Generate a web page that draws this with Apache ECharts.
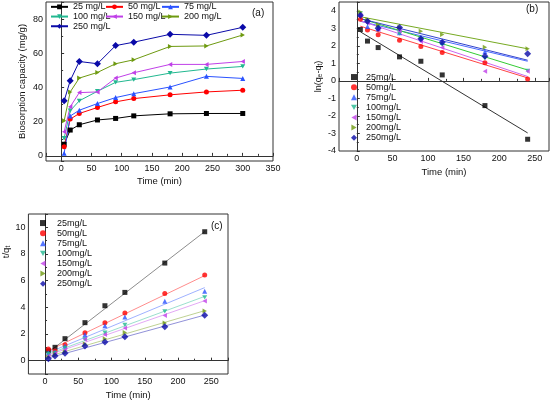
<!DOCTYPE html>
<html><head><meta charset="utf-8">
<script src="https://cdn.jsdelivr.net/npm/echarts@6/dist/echarts.min.js"></script>
<style>html,body{margin:0;padding:0;background:#fff}#c{width:551px;height:403px}</style>
</head><body><div id="c"></div>
<script>
const FONT = 'Liberation Sans, Arial, sans-serif';
// ---- Panel (a): biosorption capacity vs time ----
const timeA = [5, 15, 30, 60, 90, 120, 180, 240, 300];
const a25  = [6.8, 15.1, 18.2, 21.0, 21.9, 23.4, 24.6, 24.8, 24.8];
const a50  = [5.4, 21.5, 24.8, 28.3, 31.6, 33.5, 35.7, 37.4, 38.4];
const a75  = [1.6, 23.3, 26.7, 30.6, 34.1, 36.4, 40.3, 46.5, 45.3];
const a100 = [10.3, 26.4, 32.2, 37.8, 43.0, 44.6, 48.4, 50.8, 52.3];
const a150 = [14.1, 28.7, 37.0, 37.4, 45.5, 48.6, 53.5, 53.5, 55.2];
const a200 = [20.5, 37.4, 45.5, 48.8, 53.9, 56.2, 64.0, 64.3, 70.7];
const a250 = [32.2, 44.0, 55.2, 53.9, 64.5, 66.5, 71.1, 70.5, 75.2];
// ---- Panel (b): ln(qe-qt) vs time ----
const timeB = [5, 15, 30, 60, 90, 120, 180, 240];
const b25  = [2.93, 2.27, 1.90, 1.37, 1.12, 0.34, -1.41, -3.33];
const b50  = [3.52, 2.90, 2.63, 2.32, 1.96, 1.62, 1.03, 0.11];
const b75  = [3.79, 3.10, 2.97, 2.74, 2.46, 2.19, 1.66, null];
const b100 = [3.85, 3.30, 3.05, 2.70, 2.38, 2.05, 1.30, 0.57];
const b150 = [3.75, 3.30, 2.95, 2.85, 2.25, 1.90, 0.55, 0.55];
const b200 = [3.93, 3.50, 3.20, 3.05, 2.83, 2.65, 1.92, 1.83];
const b250 = [3.74, 3.40, 3.00, 3.05, 2.40, 2.20, 1.40, 1.55];
// fitted lines (b): values at t = 5 and t = 240
const fitT = [5, 240];
const fb25  = [2.80, -2.97];
const fb50  = [3.12, 0.17];
const fb75  = [3.40, 1.12];
const fb100 = [3.56, 0.62];
const fb150 = [3.43, 0.25];
const fb200 = [3.66, 1.83];
const fb250 = [3.55, 1.18];
// ---- Panel (c): t/qt vs time ----
const c25  = [0.74, 1.00, 1.65, 2.85, 4.12, 5.12, 7.32, 9.67];
const c50  = [0.88, 0.72, 1.20, 2.10, 2.85, 3.58, 5.03, 6.42];
const c75  = [0.60, 0.65, 1.10, 1.95, 2.62, 3.28, 4.45, 5.20];
const c100 = [0.50, 0.57, 0.95, 1.60, 2.10, 2.68, 3.70, 4.75];
const c150 = [0.35, 0.52, 0.82, 1.60, 1.97, 2.45, 3.38, 4.48];
const c200 = [0.25, 0.42, 0.65, 1.25, 1.65, 2.12, 2.82, 3.72];
const c250 = [0.15, 0.35, 0.55, 1.10, 1.40, 1.80, 2.55, 3.40];
const fc25  = [0.62, 9.68];
const fc50  = [0.75, 6.38];
const fc75  = [0.60, 5.48];
const fc100 = [0.50, 4.82];
const fc150 = [0.42, 4.50];
const fc200 = [0.32, 3.75];
const fc250 = [0.20, 3.42];

const namesA = ['25 mg/L', '50 mg/L', '75 mg/L', '100 mg/L', '150 mg/L', '200 mg/L', '250 mg/L'];
const namesB = ['25mg/L', '50mg/L', '75mg/L', '100mg/L', '150mg/L', '200mg/L', '250mg/L'];
const colors = ['#000000', '#ff0000', '#2a52ff', '#22b890', '#c040e8', '#6e9a10', '#0a0aa8'];
const fitColorsB = ['#333333', '#ff4444', '#4a6aff', '#33cc33', '#cc66ee', '#77aa22', '#3344cc'];
const symbols = ['rect', 'circle', 'triangle',
  'path://M0,0L10,0L5,8.66Z',
  'path://M0,5L8.66,0L8.66,10Z',
  'path://M0,0L8.66,5L0,10Z',
  'diamond'];
const seriesA = [a25, a50, a75, a100, a150, a200, a250];
const seriesB = [b25, b50, b75, b100, b150, b200, b250];
const fitsB = [fb25, fb50, fb75, fb100, fb150, fb200, fb250];
const seriesC = [c25, c50, c75, c100, c150, c200, c250];
const fitsC = [fc25, fc50, fc75, fc100, fc150, fc200, fc250];

function pairs(xs, ys) {
  const out = [];
  xs.forEach((x, i) => { if (ys[i] !== null && ys[i] !== undefined) out.push([x, ys[i]]); });
  return out;
}

const series = [];
seriesA.forEach((d, i) => series.push({
  name: namesA[i], type: 'line', xAxisIndex: 0, yAxisIndex: 0,
  data: pairs(timeA, d), symbol: symbols[i], symbolKeepAspect: true,
  symbolSize: i === 6 ? 7 : 5, color: colors[i],
  lineStyle: { width: 1, color: colors[i] }, itemStyle: { color: colors[i] }, z: 3
}));
fitsB.forEach((d, i) => series.push({
  name: 'fitb' + i, type: 'line', xAxisIndex: 1, yAxisIndex: 1,
  data: pairs(fitT, d), symbol: 'none', silent: true,
  lineStyle: { width: 1, color: fitColorsB[i] }, z: 2
}));
seriesB.forEach((d, i) => series.push({
  name: namesB[i], type: 'scatter', xAxisIndex: 1, yAxisIndex: 1,
  data: pairs(timeB, d), symbol: symbols[i], symbolKeepAspect: true,
  symbolSize: i === 6 ? 7 : 5, itemStyle: { color: colors[i] }, z: 3
}));
fitsC.forEach((d, i) => series.push({
  name: 'fitc' + i, type: 'line', xAxisIndex: 2, yAxisIndex: 2,
  data: pairs(fitT, d), symbol: 'none', silent: true,
  lineStyle: { width: 1, color: colors[i], opacity: 0.45 }, z: 2
}));
seriesC.forEach((d, i) => series.push({
  name: namesB[i], type: 'scatter', xAxisIndex: 2, yAxisIndex: 2,
  data: pairs(timeB, d), symbol: symbols[i], symbolKeepAspect: true,
  symbolSize: i === 6 ? 7 : 5, itemStyle: { color: colors[i] }, z: 3
}));

const AX = '#333';
function xAxis(grid, min, max, gap) {
  return {
    type: 'value', gridIndex: grid, min: min, max: max, minInterval: 50, maxInterval: 50,
    name: 'Time (min)', nameLocation: 'middle', nameGap: gap,
    nameTextStyle: { fontFamily: FONT, fontSize: 9.5, color: '#111' },
    axisLine: { show: true, lineStyle: { color: AX, width: 1 } },
    axisTick: { show: true, inside: true, length: 3, lineStyle: { color: AX } },
    minorTick: { show: true, splitNumber: 2, length: 2, lineStyle: { color: AX } },
    axisLabel: { fontFamily: FONT, fontSize: 9, color: '#111', margin: 3, showMinLabel: false, showMaxLabel: max === 350 },
    splitLine: { show: false }
  };
}
function yAxis(grid, min, max, step, name, gap, extra) {
  return Object.assign({
    type: 'value', gridIndex: grid, min: min, max: max, minInterval: step, maxInterval: step,
    name: name, nameLocation: 'middle', nameGap: gap,
    axisLine: { show: true, lineStyle: { color: AX, width: 1 } },
    axisTick: { show: true, inside: true, length: 3, lineStyle: { color: AX } },
    minorTick: { show: true, splitNumber: 2, length: 2, lineStyle: { color: AX } },
    axisLabel: { fontFamily: FONT, fontSize: 9, color: '#111', margin: 3, showMinLabel: min % step === 0, showMaxLabel: max % step === 0 },
    splitLine: { show: false }
  }, extra || {});
}

function legendA(left, data) {
  return { orient: 'vertical', itemGap: 0, padding: 0, left: left, top: 2,
    itemWidth: 17, itemHeight: 6, data: data,
    textStyle: { fontFamily: FONT, fontSize: 9, color: '#111', lineHeight: 9.7 } };
}
function legendS(left, top, pad) {
  return { orient: 'vertical', itemGap: 0, padding: 0, left: left, top: top,
    itemWidth: 6, itemHeight: 6, data: namesB,
    textStyle: { fontFamily: FONT, fontSize: 9, color: '#111', lineHeight: 10.1, padding: [0, 0, 0, pad] } };
}
const titleStyle = { fontFamily: FONT, fontSize: 10, fontWeight: 'normal', color: '#111' };

const option = {
  animation: false,
  backgroundColor: '#fff',
  textStyle: { fontFamily: FONT },
  title: [
    { text: '(a)', left: 252, top: 8, padding: 0, textStyle: titleStyle },
    { text: '(b)', left: 526, top: 4, padding: 0, textStyle: titleStyle },
    { text: '(c)', left: 211, top: 221, padding: 0, textStyle: titleStyle }
  ],
  grid: [
    { left: 46, right: 278, top: 2, bottom: 242, show: true, borderColor: AX, borderWidth: 1, backgroundColor: 'transparent' },
    { left: 339, right: 2, top: 2, bottom: 252, show: true, borderColor: AX, borderWidth: 1, backgroundColor: 'transparent' },
    { left: 23, right: 323, top: 214, bottom: 29, show: true, borderColor: AX, borderWidth: 1, backgroundColor: 'transparent' }
  ],
  xAxis: [ xAxis(0, -25, 350, 15), xAxis(1, -25, 270, 16), xAxis(2, -25, 275, 16) ],
  yAxis: [
    yAxis(0, -3, 90, 20, 'Biosorption capacity (mg/g)', 19,
      { nameTextStyle: { fontFamily: FONT, fontSize: 9.5, color: '#111' } }),
    yAxis(1, -4, 4.5, 1, '{n|ln(q}{s|e}{n|-q}{s|t}{n|)}', 13,
      { nameTextStyle: { fontFamily: FONT, fontSize: 9, color: '#111',
        rich: { n: { fontFamily: FONT, fontSize: 9, color: '#111' }, s: { fontFamily: FONT, fontSize: 6.5, color: '#111', verticalAlign: 'bottom', padding: [4, 0, 0, 0] } } } }),
    yAxis(2, -1, 11, 2, '{n|t/q}{s|t}', 8,
      { nameTextStyle: { fontFamily: FONT, fontSize: 9.5, color: '#111', padding: [0, 0, 0, 84],
        rich: { n: { fontFamily: FONT, fontSize: 9.5, color: '#111' }, s: { fontFamily: FONT, fontSize: 6.5, color: '#111', verticalAlign: 'bottom', padding: [4, 0, 0, 0] } } } })
  ],
  legend: [
    legendA(50, [namesA[0], namesA[3], namesA[6]]),
    legendA(105, [namesA[1], namesA[4]]),
    legendA(161, [namesA[2], namesA[5]]),
    legendS(351, 72, 4),
    legendS(40, 218, 6)
  ],
  series: series
};
const chart = echarts.init(document.getElementById('c'), null, { renderer: 'canvas' });
chart.setOption(option);
</script></body></html>
